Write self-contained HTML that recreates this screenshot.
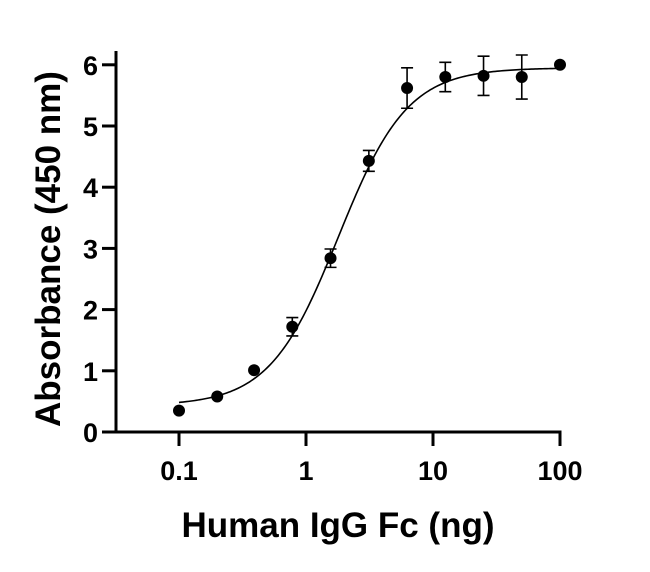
<!DOCTYPE html>
<html><head><meta charset="utf-8"><style>
body{margin:0;background:#fff;}
svg text{font-family:"Liberation Sans",Arial,sans-serif;font-weight:bold;fill:#000;}
</style></head><body>
<svg id="chart" width="650" height="567" viewBox="0 0 650 567" xmlns="http://www.w3.org/2000/svg">
<g id="axes"></g><g id="curve"></g><g id="points"></g>
<text transform="translate(60,249) rotate(-90)" text-anchor="middle" font-size="35">Absorbance (450 nm)</text>
<text x="338" y="537" text-anchor="middle" font-size="35">Human IgG Fc (ng)</text>
</svg>
<script>
const concentrations=[0.1,0.2,0.39,0.78,1.56,3.125,6.25,12.5,25,50,100];
const absorbance=[0.35,0.58,1.01,1.72,2.84,4.43,5.62,5.80,5.82,5.80,6.0];
const errors=[0,0,0,0.15,0.15,0.17,0.33,0.24,0.32,0.36,0];
const yTicks=[0,1,2,3,4,5,6];
const xTicks=[0.1,1,10,100];
const xTickLabels=["0.1","1","10","100"];
const fitBottom=0.43, fitTop=5.95, fitEC50=1.8, fitHill=1.6;

const NS="http://www.w3.org/2000/svg";
function xs(v){return 179+(Math.log10(v)+1)*127;}
function ys(v){return 432-v*61.2;}
function mk(tag,attrs,parent){const e=document.createElementNS(NS,tag);for(const k in attrs)e.setAttribute(k,attrs[k]);parent.appendChild(e);return e;}
const axes=document.getElementById('axes');
let e=mk('line',{x1:116,y1:51,x2:116,y2:433.5,stroke:'#000','stroke-width':3},axes);


e=mk('line',{x1:114.5,y1:432,x2:561.5,y2:432,stroke:'#000','stroke-width':3},axes);


yTicks.forEach(t=>{
  let l=mk('line',{x1:102,x2:116,y1:ys(t),y2:ys(t),stroke:'#000','stroke-width':3},axes);
  
  
  let tx=mk('text',{x:98,y:ys(t)+10,'text-anchor':'end','font-size':27},axes);
  tx.textContent=t;
  
  
});
xTicks.forEach((t,i)=>{
  let l=mk('line',{x1:xs(t),x2:xs(t),y1:432,y2:446,stroke:'#000','stroke-width':3},axes);
  
  
  let tx=mk('text',{x:xs(t),y:480,'text-anchor':'middle','font-size':27},axes);
  tx.textContent=xTickLabels[i];
  
  
});
let d='';
for(let i=0;i<=200;i++){const lx=-1+3*i/200;const x=Math.pow(10,lx);
  const y=fitBottom+(fitTop-fitBottom)/(1+Math.pow(fitEC50/x,fitHill));
  d+=(i?'L':'M')+xs(x).toFixed(2)+','+ys(y).toFixed(2);}
e=mk('path',{d:d,fill:'none',stroke:'#000','stroke-width':1.6},document.getElementById('curve'));


const pts=document.getElementById('points');
concentrations.forEach((c,i)=>{
  const x=xs(c),y=absorbance[i],er=errors[i];
  if(er>0){
    let g=mk('path',{d:`M${x},${ys(y-er)}L${x},${ys(y+er)}M${x-6},${ys(y-er)}L${x+6},${ys(y-er)}M${x-6},${ys(y+er)}L${x+6},${ys(y+er)}`,stroke:'#000','stroke-width':1.6,fill:'none'},pts);
    
    
  }
  let p=mk('circle',{cx:x,cy:ys(y),r:6,fill:'#000'},pts);
  
  
});
</script>
</body></html>
